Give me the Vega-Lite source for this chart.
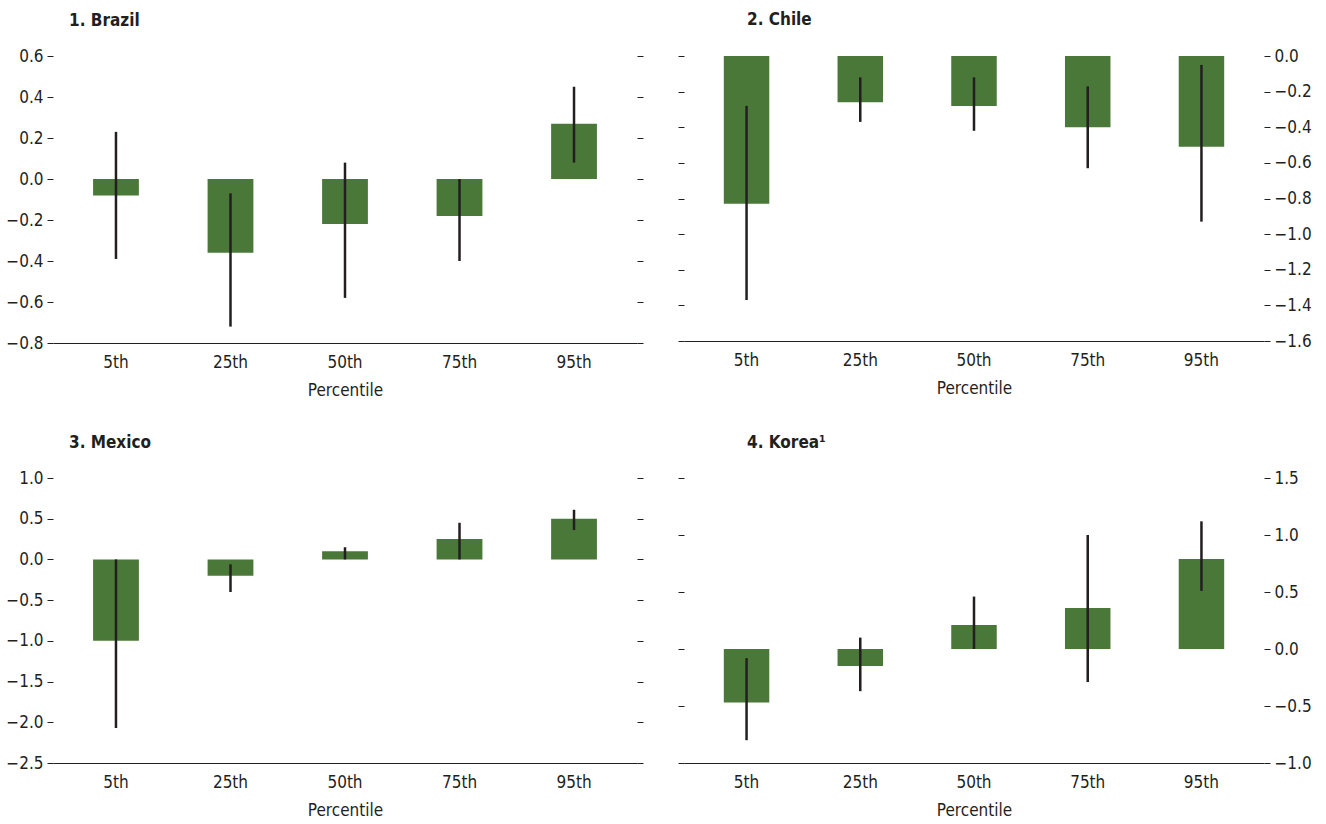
{
  "$schema": "https://vega.github.io/schema/vega-lite/v6.json",
  "padding": {"left": 5, "top": 11, "right": 10, "bottom": 2},
  "config": {
    "view": {"stroke": null},
    "font": "DejaVu Sans Condensed, Liberation Sans Narrow, sans-serif",
    "axis": {"grid": false, "labelFont": "DejaVu Sans Condensed, Liberation Sans Narrow, sans-serif", "titleFont": "DejaVu Sans Condensed, Liberation Sans Narrow, sans-serif", "labelFontSize": 17, "titleFontSize": 17, "labelColor": "#231f20", "titleColor": "#231f20", "titleFontWeight": "normal"},
    "title": {"font": "DejaVu Sans Condensed, Liberation Sans Narrow, sans-serif", "fontSize": 17, "fontWeight": "bold", "color": "#231f20", "anchor": "start", "frame": "group"}
  },
  "data": {"values": [
    {"country": "Brazil", "pct": "5th", "value": -0.08, "lo": -0.39, "hi": 0.23},
    {"country": "Brazil", "pct": "25th", "value": -0.36, "lo": -0.72, "hi": -0.07},
    {"country": "Brazil", "pct": "50th", "value": -0.22, "lo": -0.58, "hi": 0.08},
    {"country": "Brazil", "pct": "75th", "value": -0.18, "lo": -0.40, "hi": 0.0},
    {"country": "Brazil", "pct": "95th", "value": 0.27, "lo": 0.08, "hi": 0.45},
    {"country": "Chile", "pct": "5th", "value": -0.83, "lo": -1.37, "hi": -0.28},
    {"country": "Chile", "pct": "25th", "value": -0.26, "lo": -0.37, "hi": -0.12},
    {"country": "Chile", "pct": "50th", "value": -0.28, "lo": -0.42, "hi": -0.12},
    {"country": "Chile", "pct": "75th", "value": -0.40, "lo": -0.63, "hi": -0.17},
    {"country": "Chile", "pct": "95th", "value": -0.51, "lo": -0.93, "hi": -0.05},
    {"country": "Mexico", "pct": "5th", "value": -1.0, "lo": -2.07, "hi": 0.0},
    {"country": "Mexico", "pct": "25th", "value": -0.2, "lo": -0.40, "hi": -0.06},
    {"country": "Mexico", "pct": "50th", "value": 0.1, "lo": 0.0, "hi": 0.15},
    {"country": "Mexico", "pct": "75th", "value": 0.25, "lo": 0.0, "hi": 0.45},
    {"country": "Mexico", "pct": "95th", "value": 0.5, "lo": 0.36, "hi": 0.61},
    {"country": "Korea", "pct": "5th", "value": -0.47, "lo": -0.80, "hi": -0.08},
    {"country": "Korea", "pct": "25th", "value": -0.15, "lo": -0.37, "hi": 0.10},
    {"country": "Korea", "pct": "50th", "value": 0.21, "lo": 0.0, "hi": 0.46},
    {"country": "Korea", "pct": "75th", "value": 0.36, "lo": -0.29, "hi": 1.0},
    {"country": "Korea", "pct": "95th", "value": 0.79, "lo": 0.51, "hi": 1.12}
  ]},
  "spacing": 36,
  "vconcat": [
    {"spacing": 33, "hconcat": [
      {
        "width": 584, "height": 287,
        "title": {"text": "1. Brazil", "dx": 16, "offset": 17},
        "transform": [{"filter": "datum.country == 'Brazil'"}],
        "encoding": {"x": {"field": "pct", "type": "nominal", "sort": ["5th", "25th", "50th", "75th", "95th"], "scale": {"paddingInner": 0.6, "paddingOuter": 0.35}, "axis": {"title": "Percentile", "labelAngle": 0, "ticks": false, "domainColor": "#231f20", "domainWidth": 1.2, "labelPadding": 11, "titlePadding": 12}}},
        "layer": [
          {"mark": {"type": "bar", "color": "#4a7838"}, "encoding": {"y": {"field": "value", "type": "quantitative", "scale": {"domain": [-0.8, 0.6], "nice": false, "zero": false}, "axis": {"orient": "left", "title": null, "values": [-0.8, -0.6, -0.4, -0.2, 0, 0.2, 0.4, 0.6], "format": ".1f", "domain": false, "tickSize": 6, "tickColor": "#231f20", "labelPadding": 4}}}},
          {"mark": {"type": "rule", "color": "#231f20", "strokeWidth": 2.5}, "encoding": {"y": {"field": "lo", "type": "quantitative", "axis": {"orient": "right", "title": null, "labels": false, "values": [-0.8, -0.6, -0.4, -0.2, 0, 0.2, 0.4, 0.6], "domain": false, "tickSize": 6, "tickColor": "#231f20"}}, "y2": {"field": "hi"}}},
          {"mark": {"type": "rule", "color": "#231f20", "strokeWidth": 1}, "encoding": {"y": {"datum": 0, "type": "quantitative", "axis": null}}}
        ],
        "resolve": {"axis": {"y": "independent"}}
      },
      {
        "width": 580, "height": 285,
        "title": {"text": "2. Chile", "dx": 63, "offset": 18},
        "transform": [{"filter": "datum.country == 'Chile'"}],
        "encoding": {"x": {"field": "pct", "type": "nominal", "sort": ["5th", "25th", "50th", "75th", "95th"], "scale": {"paddingInner": 0.6, "paddingOuter": 0.35}, "axis": {"title": "Percentile", "labelAngle": 0, "ticks": false, "domainColor": "#231f20", "domainWidth": 1.2, "labelPadding": 11, "titlePadding": 12}}},
        "layer": [
          {"mark": {"type": "bar", "color": "#4a7838"}, "encoding": {"y": {"field": "value", "type": "quantitative", "scale": {"domain": [-1.6, 0], "nice": false, "zero": false}, "axis": {"orient": "left", "title": null, "labels": false, "values": [-1.6, -1.4, -1.2, -1.0, -0.8, -0.6, -0.4, -0.2, 0], "domain": false, "tickSize": 6, "tickColor": "#231f20"}}}},
          {"mark": {"type": "rule", "color": "#231f20", "strokeWidth": 2.5}, "encoding": {"y": {"field": "lo", "type": "quantitative", "axis": {"orient": "right", "title": null, "values": [-1.6, -1.4, -1.2, -1.0, -0.8, -0.6, -0.4, -0.2, 0], "format": ".1f", "domain": false, "tickSize": 6, "tickColor": "#231f20", "labelPadding": 4}}, "y2": {"field": "hi"}}},
          {"mark": {"type": "rule", "color": "#231f20", "strokeWidth": 1.2}, "encoding": {"y": {"datum": 0, "type": "quantitative", "axis": null}}}
        ],
        "resolve": {"axis": {"y": "independent"}}
      }
    ]},
    {"spacing": 33, "hconcat": [
      {
        "width": 584, "height": 285,
        "title": {"text": "3. Mexico", "dx": 16, "offset": 17},
        "transform": [{"filter": "datum.country == 'Mexico'"}],
        "encoding": {"x": {"field": "pct", "type": "nominal", "sort": ["5th", "25th", "50th", "75th", "95th"], "scale": {"paddingInner": 0.6, "paddingOuter": 0.35}, "axis": {"title": "Percentile", "labelAngle": 0, "ticks": false, "domainColor": "#231f20", "domainWidth": 1.2, "labelPadding": 11, "titlePadding": 12}}},
        "layer": [
          {"mark": {"type": "bar", "color": "#4a7838"}, "encoding": {"y": {"field": "value", "type": "quantitative", "scale": {"domain": [-2.5, 1.0], "nice": false, "zero": false}, "axis": {"orient": "left", "title": null, "values": [-2.5, -2.0, -1.5, -1.0, -0.5, 0, 0.5, 1.0], "format": ".1f", "domain": false, "tickSize": 6, "tickColor": "#231f20", "labelPadding": 4}}}},
          {"mark": {"type": "rule", "color": "#231f20", "strokeWidth": 2.5}, "encoding": {"y": {"field": "lo", "type": "quantitative", "axis": {"orient": "right", "title": null, "labels": false, "values": [-2.5, -2.0, -1.5, -1.0, -0.5, 0, 0.5, 1.0], "domain": false, "tickSize": 6, "tickColor": "#231f20"}}, "y2": {"field": "hi"}}},
          {"mark": {"type": "rule", "color": "#6d6e71", "strokeWidth": 1.2}, "encoding": {"y": {"datum": 0, "type": "quantitative", "axis": null}}}
        ],
        "resolve": {"axis": {"y": "independent"}}
      },
      {
        "width": 580, "height": 285,
        "title": {"text": "4. Korea¹", "dx": 63, "offset": 17},
        "transform": [{"filter": "datum.country == 'Korea'"}],
        "encoding": {"x": {"field": "pct", "type": "nominal", "sort": ["5th", "25th", "50th", "75th", "95th"], "scale": {"paddingInner": 0.6, "paddingOuter": 0.35}, "axis": {"title": "Percentile", "labelAngle": 0, "ticks": false, "domainColor": "#231f20", "domainWidth": 1.2, "labelPadding": 11, "titlePadding": 12}}},
        "layer": [
          {"mark": {"type": "bar", "color": "#4a7838"}, "encoding": {"y": {"field": "value", "type": "quantitative", "scale": {"domain": [-1.0, 1.5], "nice": false, "zero": false}, "axis": {"orient": "left", "title": null, "labels": false, "values": [-1.0, -0.5, 0, 0.5, 1.0, 1.5], "domain": false, "tickSize": 6, "tickColor": "#231f20"}}}},
          {"mark": {"type": "rule", "color": "#231f20", "strokeWidth": 2.5}, "encoding": {"y": {"field": "lo", "type": "quantitative", "axis": {"orient": "right", "title": null, "values": [-1.0, -0.5, 0, 0.5, 1.0, 1.5], "format": ".1f", "domain": false, "tickSize": 6, "tickColor": "#231f20", "labelPadding": 4}}, "y2": {"field": "hi"}}},
          {"mark": {"type": "rule", "color": "#6d6e71", "strokeWidth": 1.2}, "encoding": {"y": {"datum": 0, "type": "quantitative", "axis": null}}}
        ],
        "resolve": {"axis": {"y": "independent"}}
      }
    ]}
  ]
}
